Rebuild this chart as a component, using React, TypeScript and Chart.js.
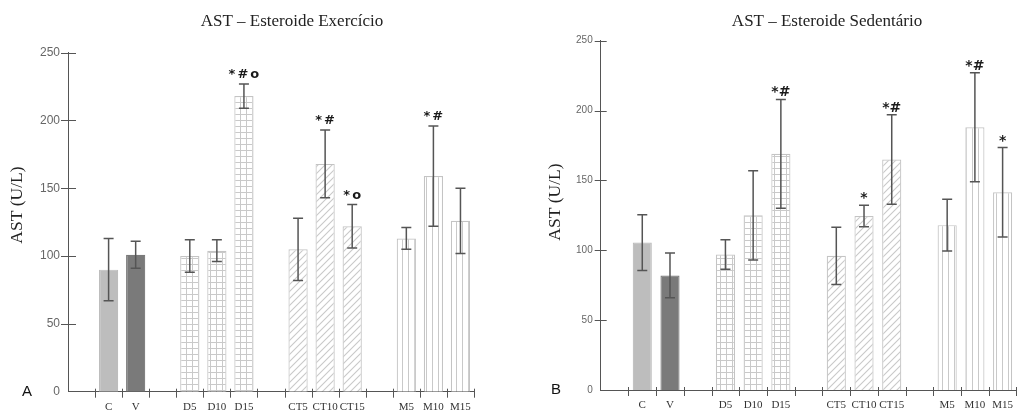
import React, { useEffect, useRef } from "react";
import { Chart, registerables } from "chart.js";

Chart.register(...registerables);

// ---------- data ----------
const categories = ["", "C", "V", "", "D5", "D10", "D15", "", "CT5", "CT10", "CT15", "", "M5", "M10", "M15"];
const yTickValues = [0, 50, 100, 150, 200, 250];

const exerciseTitle = "AST – Esteroide Exercício";
const exerciseMeans = [null, 90, 101, null, 100, 104, 218, null, 105, 168, 122, null, 113, 159, 126];
const exerciseErrors = [null, 23, 10, null, 12, 8, 9, null, 23, 25, 16, null, 8, 37, 24];
const exerciseMarks = ["", "", "", "", "", "", "*#o", "", "", "*#", "*o", "", "", "*#", ""];

const sedentaryTitle = "AST – Esteroide Sedentário";
const sedentaryMeans = [null, 105.5, 82, null, 97, 125, 169, null, 96, 124.5, 165, null, 118, 188, 141.5];
const sedentaryErrors = [null, 20, 16, null, 10.5, 32, 39, null, 20.5, 7.7, 32, null, 18.5, 39, 32];
const sedentaryMarks = ["", "", "", "", "", "", "*#", "", "", "*", "*#", "", "", "*#", "*"];

const yAxisTitle = "AST (U/L)";

// ---------- patterns ----------
function tile(w: number, h: number, draw: (c: CanvasRenderingContext2D) => void) {
  const cv = document.createElement("canvas");
  cv.width = w;
  cv.height = h;
  const c = cv.getContext("2d")!;
  c.fillStyle = "#ffffff";
  c.fillRect(0, 0, w, h);
  draw(c);
  return cv;
}

function makeFill(label: string, ctx: CanvasRenderingContext2D): any {
  const line = "#c9c9c9";
  if (label === "C") return "#bdbdbd";
  if (label === "V") return "#7a7a7a";
  if (label.startsWith("CT")) {
    const t = tile(7, 7, (c) => {
      c.strokeStyle = line;
      c.lineWidth = 1.1;
      c.beginPath();
      c.moveTo(-1, 8);
      c.lineTo(8, -1);
      c.moveTo(-1, 1);
      c.lineTo(1, -1);
      c.moveTo(6, 8);
      c.lineTo(8, 6);
      c.stroke();
    });
    return ctx.createPattern(t, "repeat");
  }
  if (label.startsWith("D")) {
    const t = tile(6, 6, (c) => {
      c.fillStyle = line;
      c.fillRect(0, 0, 1, 6);
      c.fillRect(0, 0, 6, 1);
    });
    return ctx.createPattern(t, "repeat");
  }
  if (label.startsWith("M")) {
    const t = tile(6, 2, (c) => {
      c.fillStyle = line;
      c.fillRect(0, 0, 1, 2);
    });
    return ctx.createPattern(t, "repeat");
  }
  return "rgba(0,0,0,0)";
}

type PanelSpec = {
  left: number;
  width: number;
  height: number;
  title: string;
  titleX: number;
  letter: string;
  letterX: number;
  yTitleX: number;
  yTitleY: number;
  means: (number | null)[];
  errors: (number | null)[];
  marks: string[];
  padTop: number;
  padRight: number;
  yAxisWidth: number;
  xAxisHeight: number;
  yTickFont: number;
  yTickOut: number;
  yTickIn: number;
  markFont: number;
  markSpacing: number;
  markGap: number;
  barPct: number;
};

function Panel({ spec }: { spec: PanelSpec }) {
  const ref = useRef<HTMLCanvasElement>(null);
  useEffect(() => {
    const canvas = ref.current!;
    const ctx = canvas.getContext("2d")!;
    const fills = categories.map((c) => makeFill(c, ctx));
    const borders = categories.map((c) =>
      c === "C" ? "#bdbdbd" : c === "V" ? "#7a7a7a" : "#c4c4c4"
    );

    const decor = {
      id: "decor",
      afterDatasetsDraw(chart: any) {
        const c = chart.ctx;
        const ys = chart.scales.y;
        const meta = chart.getDatasetMeta(0);
        c.save();
        // error bars
        c.strokeStyle = "#555555";
        c.lineWidth = 1.5;
        spec.means.forEach((m, i) => {
          const e = spec.errors[i];
          if (m == null || e == null) return;
          const x = meta.data[i].x;
          const yt = ys.getPixelForValue(m + e);
          const yb = ys.getPixelForValue(m - e);
          c.beginPath();
          c.moveTo(x, yt);
          c.lineTo(x, yb);
          c.moveTo(x - 5, yt);
          c.lineTo(x + 5, yt);
          c.moveTo(x - 5, yb);
          c.lineTo(x + 5, yb);
          c.stroke();
        });
        // significance marks
        c.fillStyle = "#1a1a1a";
        c.font = `bold ${spec.markFont}px "DejaVu Sans"`;
        c.textAlign = "center";
        c.textBaseline = "alphabetic";
        (c as any).letterSpacing = `${spec.markSpacing}px`;
        spec.marks.forEach((t, i) => {
          const m = spec.means[i];
          const e = spec.errors[i];
          if (!t || m == null || e == null) return;
          const x = meta.data[i].x;
          const yt = ys.getPixelForValue(m + e);
          c.fillText(t, x + spec.markSpacing / 2, yt - spec.markGap);
        });
        (c as any).letterSpacing = "0px";
        c.restore();
      },
      afterDraw(chart: any) {
        const c = chart.ctx;
        const xs = chart.scales.x;
        const ys = chart.scales.y;
        const area = chart.chartArea;
        c.save();
        c.strokeStyle = "#555555";
        c.lineWidth = 1;
        // crossing ticks on x axis
        const n = categories.length;
        const slot = (xs.right - xs.left) / n;
        c.beginPath();
        for (let i = 1; i <= n; i++) {
          const x = Math.round(xs.left + i * slot) + 0.5;
          c.moveTo(x, area.bottom - 3);
          c.lineTo(x, area.bottom + 6);
        }
        // crossing ticks on y axis
        yTickValues.forEach((v) => {
          if (v === 0) return;
          const y = Math.round(ys.getPixelForValue(v)) + 0.5;
          c.moveTo(area.left - spec.yTickOut, y);
          c.lineTo(area.left + spec.yTickIn, y);
        });
        c.stroke();
        // title
        c.fillStyle = "#222222";
        c.font = '17px "Liberation Serif"';
        c.textAlign = "center";
        c.textBaseline = "alphabetic";
        c.fillText(spec.title, spec.titleX, 26);
        // y axis title
        c.save();
        c.translate(spec.yTitleX, spec.yTitleY);
        c.rotate(-Math.PI / 2);
        c.font = '17.5px "Liberation Serif"';
        c.textBaseline = "middle";
        c.fillText(yAxisTitle, 0, 0);
        c.restore();
        // panel letter
        c.font = '15px "Liberation Sans"';
        c.textBaseline = "middle";
        c.fillStyle = "#111111";
        c.fillText(spec.letter, spec.letterX, area.bottom);
        c.restore();
      },
    };

    const chart = new Chart(canvas, {
      type: "bar",
      data: {
        labels: categories,
        datasets: [
          {
            data: spec.means as any,
            backgroundColor: fills,
            borderColor: borders,
            borderWidth: 1.2,
            barPercentage: spec.barPct,
            categoryPercentage: 1,
          },
        ],
      },
      options: {
        responsive: false,
        animation: false,
        devicePixelRatio: 1,
        layout: { padding: { top: spec.padTop, right: spec.padRight, left: 0, bottom: 0 } },
        plugins: { legend: { display: false }, title: { display: false }, tooltip: { enabled: false } },
        scales: {
          x: {
            type: "category",
            grid: { display: false, drawTicks: false },
            border: { display: true, color: "#555555", width: 1 },
            ticks: {
              autoSkip: false,
              maxRotation: 0,
              padding: 9,
              color: "#333333",
              font: { family: '"Liberation Serif"', size: 11 },
            },
            afterFit: (s: any) => {
              s.height = spec.xAxisHeight;
            },
          },
          y: {
            min: 0,
            max: 250,
            grid: { display: false, drawTicks: false },
            border: { display: true, color: "#555555", width: 1 },
            ticks: {
              padding: 8,
              color: "#666666",
              font: { family: '"Liberation Sans"', size: spec.yTickFont },
            },
            afterBuildTicks: (s: any) => {
              s.ticks = yTickValues.map((v) => ({ value: v }));
            },
            afterFit: (s: any) => {
              s.width = spec.yAxisWidth;
            },
          },
        },
      },
      plugins: [decor],
    });
    return () => chart.destroy();
  }, []);
  return (
    <canvas
      ref={ref}
      width={spec.width}
      height={spec.height}
      style={{ position: "absolute", left: spec.left, top: 0, width: spec.width, height: spec.height }}
    />
  );
}

const leftSpec: PanelSpec = {
  left: 0,
  width: 510,
  height: 411,
  title: exerciseTitle,
  titleX: 292,
  letter: "A",
  letterX: 27,
  yTitleX: 17,
  yTitleY: 205,
  means: exerciseMeans,
  errors: exerciseErrors,
  marks: exerciseMarks,
  padTop: 52.7,
  padRight: 36,
  yAxisWidth: 68,
  xAxisHeight: 19.3,
  yTickFont: 12,
  yTickOut: 7,
  yTickIn: 8,
  markFont: 13,
  markSpacing: 2,
  markGap: 6,
  barPct: 0.71,
};

const rightSpec: PanelSpec = {
  left: 510,
  width: 512,
  height: 411,
  title: sedentaryTitle,
  titleX: 317,
  letter: "B",
  letterX: 46,
  yTitleX: 45,
  yTitleY: 202,
  means: sedentaryMeans,
  errors: sedentaryErrors,
  marks: sedentaryMarks,
  padTop: 40.7,
  padRight: 0,
  yAxisWidth: 90.7,
  xAxisHeight: 21,
  yTickFont: 10,
  yTickOut: 6,
  yTickIn: 6,
  markFont: 14,
  markSpacing: 0,
  markGap: 3,
  barPct: 0.69,
};

export default function App() {
  return (
    <div style={{ position: "absolute", left: 0, top: 0, width: 1022, height: 411, background: "#ffffff", overflow: "hidden" }}>
      <Panel spec={leftSpec} />
      <Panel spec={rightSpec} />
    </div>
  );
}
